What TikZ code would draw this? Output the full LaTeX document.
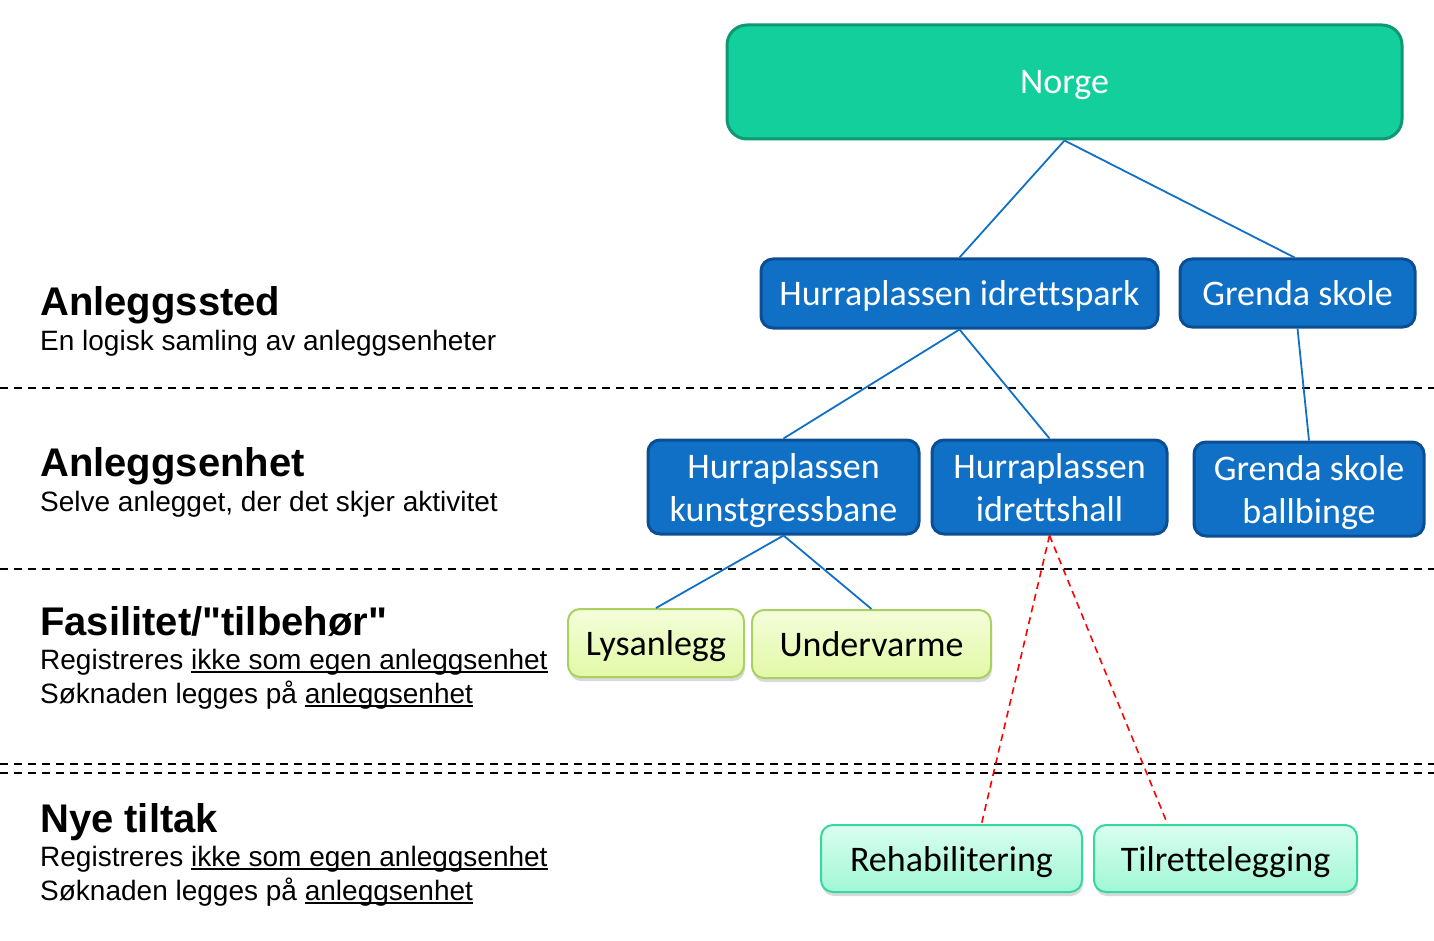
\documentclass[tikz,border=0pt]{standalone}
\usepackage{fontspec}
\setmainfont{Liberation Sans}
\newfontfamily\boxfont[Ligatures=NoCommon]{Carlito}
\usepackage{xcolor}
\usepackage{tikz}
\usetikzlibrary{shadows}

\definecolor{norgefill}{RGB}{18,207,156}
\definecolor{norgeline}{RGB}{15,152,114}
\definecolor{blaafill}{RGB}{16,112,198}
\definecolor{blaaline}{RGB}{12,78,148}
\definecolor{lystop}{RGB}{244,253,218}
\definecolor{lysbunn}{RGB}{226,249,166}
\definecolor{lysline}{RGB}{170,208,98}
\definecolor{tiltop}{RGB}{218,254,240}
\definecolor{tilbunn}{RGB}{160,247,214}
\definecolor{tilline}{RGB}{56,214,160}

% underline that cuts through the descenders, as in the slide
\newcommand{\strek}[1]{\setbox0\hbox{#1}\rlap{\rule[-3.5pt]{\wd0}{1.6pt}}\box0}

\begin{document}
\begin{tikzpicture}[x=1pt, y=-1pt,
    boks/.style={rectangle, align=center, inner sep=0pt, line width=3pt, text depth=0pt,
      font=\boxfont\fontsize{36}{43}\selectfont},
    toppboks/.style={boks, rounded corners=20pt, fill=norgefill, draw=norgeline, text=white},
    blaaboks/.style={boks, rounded corners=12pt, fill=blaafill, draw=blaaline, text=white},
    fasboks/.style={boks, line width=2pt, rounded corners=12pt, top color=lystop, bottom color=lysbunn,
      draw=lysline, drop shadow={shadow xshift=1pt, shadow yshift=-4pt, opacity=0.3}},
    tiltakboks/.style={boks, line width=2pt, rounded corners=12pt, top color=tiltop, bottom color=tilbunn,
      draw=tilline, drop shadow={shadow xshift=1pt, shadow yshift=-4pt, opacity=0.3}},
    kobling/.style={line width=1.8pt, blaafill},
    tiltaklinje/.style={line width=1.6pt, red, dash pattern=on 7pt off 5pt},
    skille/.style={line width=1.8pt, black, dash pattern=on 8pt off 6pt},
    overskrift/.style={anchor=base west, inner sep=0pt, font=\bfseries\fontsize{40}{48}\selectfont},
    forklaring/.style={anchor=base west, inner sep=0pt, font=\fontsize{28}{34}\selectfont}]

      \useasboundingbox (0,0) rectangle (1434,941);

      % skillelinjer
      \draw[skille] (0,388) -- (1434,388);
      \draw[skille] (0,569) -- (1434,569);
      \draw[skille] (0,764) -- (1434,764);
      \draw[skille] (0,773) -- (1434,773);

      % tekst til venstre
      \node[overskrift] (sted) at (40,315) {Anleggssted};
      \node[forklaring] (stedtxt) at (40,350) {En logisk samling av anleggsenheter};
      \node[overskrift] (enhet) at (40,476) {Anleggsenhet};
      \node[forklaring] (enhettxt) at (40,511) {Selve anlegget, der det skjer aktivitet};
      \node[overskrift] (fas) at (40,635) {Fasilitet/\textquotedbl tilbehør\textquotedbl};
      \node[forklaring] (fastxt1) at (40,669) {Registreres \strek{ikke som egen anleggsenhet}};
      \node[forklaring] (fastxt2) at (40,703) {Søknaden legges på \strek{anleggsenhet}};
      \node[overskrift] (nye) at (40,832) {Nye tiltak};
      \node[forklaring] (nyetxt1) at (40,866) {Registreres \strek{ikke som egen anleggsenhet}};
      \node[forklaring] (nyetxt2) at (40,900) {Søknaden legges på \strek{anleggsenhet}};

      % boksene
      \node[toppboks, minimum width=675, minimum height=114] (norge) at (1064.5,82) {Norge};

      \node[blaaboks, minimum width=397, minimum height=69] (park) at (959.5,293.5) {Hurraplassen idrettspark};
      \node[blaaboks, minimum width=235, minimum height=68] (grenda) at (1297.5,293) {Grenda skole};

      \node[blaaboks, minimum width=271, minimum height=94] (kunst) at (783.5,487) {Hurraplassen\\kunstgressbane};
      \node[blaaboks, minimum width=235, minimum height=94] (hall) at (1049.5,487) {Hurraplassen\\idrettshall};
      \node[blaaboks, minimum width=230, minimum height=94] (binge) at (1309,489) {Grenda skole\\ballbinge};

      \node[fasboks, minimum width=176, minimum height=68] (lys) at (656,643) {Lysanlegg};
      \node[fasboks, minimum width=239, minimum height=68] (varme) at (871.5,644) {Undervarme};

      \node[tiltakboks, minimum width=261, minimum height=67] (rehab) at (951.5,858.5) {Rehabilitering};
      \node[tiltakboks, minimum width=263, minimum height=67] (tilrett) at (1225.5,858.5) {Tilrettelegging};

      % koblinger
      \draw[kobling] (norge.south) -- (park.north);
      \draw[kobling] (norge.south) -- ([xshift=-3pt]grenda.north);
      \draw[kobling] (park.south) -- (kunst.north);
      \draw[kobling] (park.south) -- (hall.north);
      \draw[kobling] (grenda.south) -- (binge.north);
      \draw[kobling] (kunst.south) -- (lys.north);
      \draw[kobling] (kunst.south) -- (varme.north);

      \draw[tiltaklinje] (hall.south) -- ([xshift=30pt]rehab.north);
      \draw[tiltaklinje] (hall.south) -- ([xshift=-58pt]tilrett.north);
    \end{tikzpicture}
\end{document}
